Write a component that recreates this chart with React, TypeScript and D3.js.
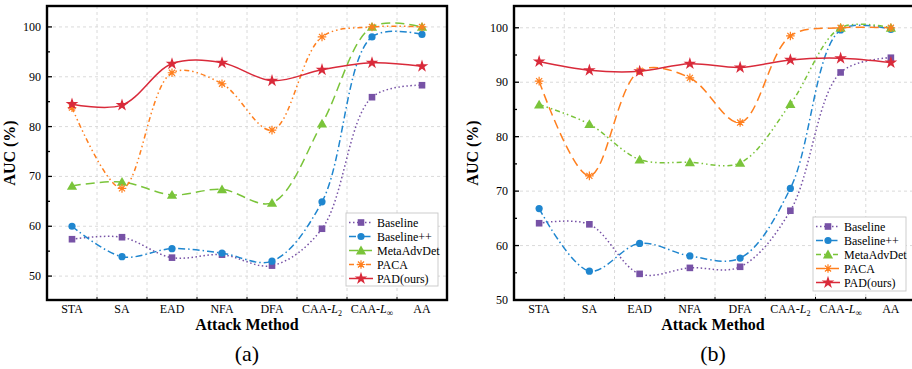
import React from "react";
import * as d3 from "d3";

const categories = ["STA", "SA", "EAD", "NFA", "DFA", "CAA-L2", "CAA-Linf", "AA"];
const seriesNames = ["Baseline", "Baseline++", "MetaAdvDet", "PACA", "PAD(ours)"];

// Panel (a)
const aBaseline = [57.4, 57.8, 53.7, 54.3, 52.1, 59.5, 85.9, 88.3];
const aBaselinePP = [60.0, 53.9, 55.5, 54.6, 53.0, 64.9, 98.0, 98.5];
const aMeta = [68.1, 68.9, 66.3, 67.4, 64.7, 80.6, 100, 100];
const aPACA = [83.8, 67.6, 90.8, 88.6, 79.3, 98.0, 100, 100];
const aPAD = [84.5, 84.3, 92.6, 92.8, 89.2, 91.4, 92.8, 92.1];

// Panel (b)
const bBaseline = [64.1, 63.9, 54.8, 55.9, 56.1, 66.4, 91.8, 94.5];
const bBaselinePP = [66.8, 55.3, 60.4, 58.1, 57.7, 70.5, 99.6, 99.7];
const bMeta = [85.9, 82.3, 75.8, 75.3, 75.2, 86.0, 100, 100];
const bPACA = [90.2, 72.8, 92.1, 90.8, 82.6, 98.5, 100, 100];
const bPAD = [93.8, 92.2, 92.0, 93.4, 92.7, 94.1, 94.4, 93.6];

const aTicks = [50, 60, 70, 80, 90, 100];
const aMinor = [55, 65, 75, 85, 95];
const bTicks = [50, 60, 70, 80, 90, 100];
const bMinor = [55, 65, 75, 85, 95];

const COLORS = ["#7752a6", "#1f86cf", "#7ac43a", "#ff7f1e", "#d92a3a"];
const FONT = "Liberation Serif, DejaVu Serif, serif";

type Panel = {
  label: string;
  left: number;
  right: number;
  top: number;
  bottom: number;
  yDomain: [number, number];
  ticks: number[];
  minor: number[];
  data: number[][];
  dashes: string[];
  legend: { x: number; y: number; w: number; h: number };
  yLabelX: number;
};

const panels: Panel[] = [
  {
    label: "(a)",
    left: 47,
    right: 447,
    top: 6,
    bottom: 300,
    yDomain: [45.2, 104.2],
    ticks: aTicks,
    minor: aMinor,
    data: [aBaseline, aBaselinePP, aMeta, aPACA, aPAD],
    dashes: ["1.5,2.5", "7,3,1.5,3", "9,5", "5,3,1.5,3,1.5,3", ""],
    legend: { x: 346, y: 213, w: 92, h: 73 },
    yLabelX: 15,
  },
  {
    label: "(b)",
    left: 514,
    right: 916,
    top: 6,
    bottom: 300,
    yDomain: [50, 104],
    ticks: bTicks,
    minor: bMinor,
    data: [bBaseline, bBaselinePP, bMeta, bPACA, bPAD],
    dashes: ["1.5,2.5", "7,3,1.5,3", "5,3,1.5,3,1.5,3", "9,5", ""],
    legend: { x: 813, y: 217, w: 93, h: 74 },
    yLabelX: 478,
  },
];

const txt = (size: number, extra: React.CSSProperties = {}): React.CSSProperties => ({
  fontFamily: FONT,
  fontSize: size,
  ...extra,
});

function Marker({ kind, x, y, color }: { kind: number; x: number; y: number; color: string }) {
  if (kind === 0) return <rect x={x - 3.3} y={y - 3.3} width={6.6} height={6.6} fill={color} />;
  if (kind === 1) return <circle cx={x} cy={y} r={3.6} fill={color} />;
  if (kind === 2)
    return <path d={d3.symbol(d3.symbolTriangle, 45)()!} transform={`translate(${x},${y + 1})`} fill={color} />;
  if (kind === 3) {
    const r = 4.3;
    const lines = [0, 45, 90, 135].map((a) => {
      const t = (a * Math.PI) / 180;
      return `M${x - r * Math.cos(t)},${y - r * Math.sin(t)}L${x + r * Math.cos(t)},${y + r * Math.sin(t)}`;
    });
    return <path d={lines.join("")} stroke={color} strokeWidth={1.2} fill="none" />;
  }
  return <path d={d3.symbol(d3.symbolStar, 50)()!} transform={`translate(${x},${y})`} fill={color} />;
}

function CatLabel({ name, x, y }: { name: string; x: number; y: number }) {
  if (name === "CAA-L2")
    return (
      <text x={x} y={y} textAnchor="middle" style={txt(12)}>
        CAA-<tspan fontStyle="italic">L</tspan>
        <tspan fontSize={8} dy={3}>2</tspan>
      </text>
    );
  if (name === "CAA-Linf")
    return (
      <text x={x} y={y} textAnchor="middle" style={txt(12)}>
        CAA-<tspan fontStyle="italic">L</tspan>
        <tspan fontSize={9} dy={3}>∞</tspan>
      </text>
    );
  return (
    <text x={x} y={y} textAnchor="middle" style={txt(12)}>
      {name}
    </text>
  );
}

function PanelView({ p }: { p: Panel }) {
  const x = d3.scaleLinear().domain([-0.5, 7.5]).range([p.left, p.right]);
  const y = d3.scaleLinear().domain(p.yDomain).range([p.bottom, p.top]);
  const line = d3
    .line<number>()
    .x((_, i) => x(i))
    .y((v) => y(v))
    .curve(d3.curveCatmullRom.alpha(0.5));
  const halves = d3.range(0.5, 7, 1);
  const cx = (p.left + Math.min(p.right, 912)) / 2;
  const lg = p.legend;
  return (
    <g>
      {halves.map((h) => (
        <line key={"v" + h} x1={x(h)} x2={x(h)} y1={p.top} y2={p.bottom} stroke="#d6d6d6" strokeDasharray="3,3" strokeWidth={0.9} />
      ))}
      {p.ticks
        .filter((t) => y(t) < p.bottom - 2)
        .map((t) => (
          <line key={"h" + t} x1={p.left} x2={p.right} y1={y(t)} y2={y(t)} stroke="#d6d6d6" strokeDasharray="3,3" strokeWidth={0.9} />
        ))}
      {p.data.map((vals, si) => (
        <path
          key={"l" + si}
          d={line(vals)!}
          fill="none"
          stroke={COLORS[si]}
          strokeWidth={1.5}
          strokeDasharray={p.dashes[si] || undefined}
        />
      ))}
      {p.data.map((vals, si) =>
        vals.map((v, i) => <Marker key={`m${si}-${i}`} kind={si} x={x(i)} y={y(v)} color={COLORS[si]} />)
      )}
      <rect x={p.left} y={p.top} width={p.right - p.left} height={p.bottom - p.top} fill="none" stroke="#000" strokeWidth={2.4} />
      {p.ticks.map((t) => (
        <g key={"t" + t}>
          <line x1={p.left} x2={p.left + 5} y1={y(t)} y2={y(t)} stroke="#000" strokeWidth={1.3} />
          <text x={p.left - 6} y={y(t) + 4} textAnchor="end" style={txt(12)}>
            {t}
          </text>
        </g>
      ))}
      {p.minor.map((t) => (
        <line key={"mt" + t} x1={p.left} x2={p.left + 3} y1={y(t)} y2={y(t)} stroke="#000" strokeWidth={1.3} />
      ))}
      {halves.map((h) => (
        <line key={"xt" + h} x1={x(h)} x2={x(h)} y1={p.bottom} y2={p.bottom - 3} stroke="#000" strokeWidth={1} />
      ))}
      {categories.map((c, i) => (
        <CatLabel key={c} name={c} x={x(i)} y={p.bottom + 13} />
      ))}
      <text x={cx} y={p.bottom + 30} textAnchor="middle" style={txt(16, { fontWeight: "bold" })}>
        Attack Method
      </text>
      <text
        transform={`translate(${p.yLabelX},${(p.top + p.bottom) / 2}) rotate(-90)`}
        textAnchor="middle"
        style={txt(16, { fontWeight: "bold" })}
      >
        AUC (%)
      </text>
      <text x={cx} y={361} textAnchor="middle" style={txt(22)}>
        {p.label}
      </text>
      <rect x={lg.x} y={lg.y} width={lg.w} height={lg.h} fill="#fff" stroke="#c8c8c8" strokeWidth={0.9} />
      {seriesNames.map((n, si) => {
        const ly = lg.y + 9.5 + si * 14;
        return (
          <g key={n}>
            <line
              x1={lg.x + 3}
              x2={lg.x + 27}
              y1={ly}
              y2={ly}
              stroke={COLORS[si]}
              strokeWidth={1.5}
              strokeDasharray={p.dashes[si] || undefined}
            />
            <Marker kind={si} x={lg.x + 15} y={ly} color={COLORS[si]} />
            <text x={lg.x + 31} y={ly + 4} style={txt(12)}>
              {n}
            </text>
          </g>
        );
      })}
    </g>
  );
}

export default function App() {
  return (
    <svg width={912} height={369} style={{ position: "absolute", left: 0, top: 0, background: "#fff" }}>
      {panels.map((p) => (
        <PanelView key={p.label} p={p} />
      ))}
    </svg>
  );
}
